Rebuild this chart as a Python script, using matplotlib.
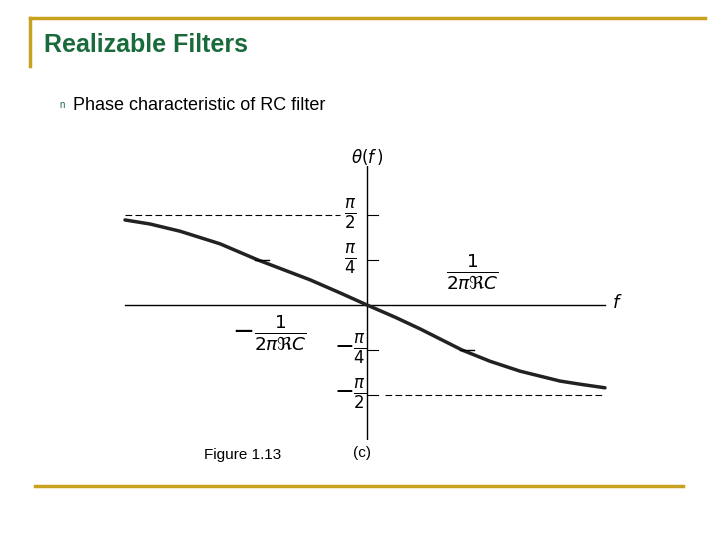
import numpy as np
import matplotlib.pyplot as plt

# curve: f in units of 1/(2*pi*R*C), theta in units of pi/4
f_vals = [-2.42, -2.17, -1.87, -1.47, -1.09, -0.57, -0.27, 0.0, 0.28, 0.53, 0.95,
          1.23, 1.53, 1.93, 2.13, 2.38]
theta_vals = [1.89, 1.80, 1.64, 1.36, 1.0, 0.56, 0.27, 0.0, -0.27, -0.53, -1.0,
              -1.25, -1.47, -1.69, -1.76, -1.84]
tick_levels = [2, 1, -1, -2]
tick_labels = [r'$\frac{\pi}{2}$', r'$\frac{\pi}{4}$', r'$-\frac{\pi}{4}$', r'$-\frac{\pi}{2}$']

W, H = 720, 540
fig = plt.figure(figsize=(7.2, 5.4), dpi=100)
plt.rcParams['mathtext.fontset'] = 'dejavusans'

# slide decoration
deco = fig.add_axes([0, 0, 1, 1])
deco.set_xlim(0, W)
deco.set_ylim(H, 0)
deco.axis('off')
gold = '#c8a21e'
deco.plot([30, 705], [18, 18], color=gold, lw=2.5)
deco.plot([30, 30], [18, 66], color=gold, lw=2.5)
deco.plot([35, 683], [486, 486], color=gold, lw=2.5)
deco.text(44, 45, 'Realizable Filters', color='#1a6b3c', fontsize=18, fontweight='bold',
          family='Liberation Sans', va='center')
deco.text(59, 105, 'n', color='#1a6b3c', fontsize=7, va='center', family='Liberation Sans')
deco.text(73, 105, 'Phase characteristic of RC filter', fontsize=13, va='center',
          family='Liberation Sans')
deco.text(204, 455, 'Figure 1.13', fontsize=11, va='center', family='Liberation Sans')
deco.text(353, 453, '(c)', fontsize=11, va='center', family='Liberation Sans')

# plot axes
ax = fig.add_axes([107 / W, 100 / H, 510 / W, 274.5 / H])
ax.set_xlim(-2.6, 2.5)
ax.set_ylim(-3, 3.1)
ax.axis('off')
ax.axhline(0, xmin=(-2.42 + 2.6) / 5.1, xmax=(2.38 + 2.6) / 5.1, color='black', lw=1)
ax.axvline(0, color='black', lw=1)
ax.plot(f_vals, theta_vals, color='#222222', lw=2.5, solid_capstyle='round',
        solid_joinstyle='round')
ax.plot([-2.42, -0.27], [2, 2], color='black', lw=0.8, ls=(0, (6, 3)))
ax.plot([0.18, 2.38], [-2, -2], color='black', lw=0.8, ls=(0, (6, 3)))
for lv, lab in zip(tick_levels, tick_labels):
    ax.plot([0.0, 0.11], [lv, lv], color='black', lw=0.8)
    ax.text(-0.17, lv, lab, fontsize=17, ha='center', va='center')
ax.plot([-1.12, -0.98], [1.0, 1.0], color='black', lw=1)
ax.plot([0.93, 1.07], [-1.0, -1.0], color='black', lw=1)
ax.text(1.05, 0.75, r'$\frac{1}{2\pi\Re C}$', fontsize=19, ha='center', va='center')
ax.text(-0.98, -0.6, r'$-\frac{1}{2\pi\Re C}$', fontsize=19, ha='center', va='center')
ax.text(0.0, 3.3, r'$\theta(f\,)$', fontsize=12, ha='center', va='center')
ax.text(2.5, 0.05, r'$f$', fontsize=13, ha='center', va='center')

fig.savefig('out.png', dpi=100)
